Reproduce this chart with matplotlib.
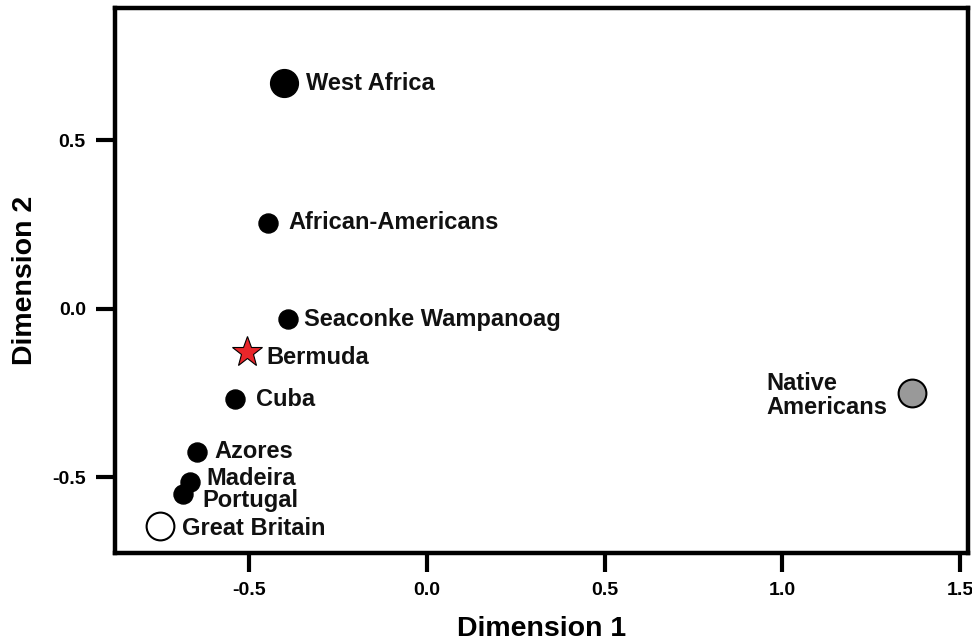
import matplotlib
matplotlib.use('Agg')
import matplotlib.pyplot as plt

plt.rcParams['font.family'] = ['Liberation Sans', 'DejaVu Sans']
plt.rcParams['font.weight'] = 'bold'

# MDS coordinates
groups = ['West Africa', 'African-Americans', 'Seaconke Wampanoag', 'Bermuda', 'Cuba',
          'Azores', 'Madeira', 'Portugal', 'Great Britain', 'Native\nAmericans']
dim1 = [-0.403, -0.447, -0.391, -0.506, -0.539, -0.645, -0.666, -0.685, -0.750, 1.365]
dim2 = [0.670, 0.256, -0.031, -0.127, -0.268, -0.424, -0.514, -0.550, -0.645, -0.249]

xticks = [-0.5, 0.0, 0.5, 1.0, 1.5]
yticks = [-0.5, 0.0, 0.5]

# marker style per group: (marker, size, face, edge width)
style = {
    'West Africa': ('o', 20, 'black', 1.0),
    'Bermuda': ('*', 23, '#e8262a', 0.8),
    'Great Britain': ('o', 20, 'white', 1.5),
    'Native\nAmericans': ('o', 20, '#999999', 1.5),
}
# label offsets in points (dx, dy)
offsets = {
    'West Africa': (16.5, 0), 'African-Americans': (15, 0), 'Seaconke Wampanoag': (12, 0),
    'Bermuda': (14, -4.5), 'Cuba': (15, 0), 'Azores': (12, 0), 'Madeira': (11.5, 2.2),
    'Portugal': (14, -4.8), 'Great Britain': (15.5, -1.5), 'Native\nAmericans': (-18, -2),
}

fig = plt.figure(figsize=(9.72, 6.44), dpi=100)
ax = fig.add_axes([0.1183, 0.1413, 0.8776, 0.8463])

for name, x, y in zip(groups, dim1, dim2):
    m, ms, fc, ew = style.get(name, ('o', 13.7, 'black', 1.0))
    ax.plot(x, y, marker=m, markersize=ms, markerfacecolor=fc,
            markeredgecolor='black', markeredgewidth=ew, linestyle='none', zorder=3)
    dx, dy = offsets[name]
    ha = 'right' if dx < 0 else 'left'
    ax.annotate(name, (x, y), xytext=(dx, dy), textcoords='offset points',
                ha=ha, va='center', multialignment='left', linespacing=1.05,
                fontsize=17, fontweight='bold', color='#111111')

ax.set_xlim(-0.877, 1.522)
ax.set_ylim(-0.725, 0.893)
ax.set_xticks(xticks)
ax.set_yticks(yticks)
ax.set_xticklabels([f'{t:.1f}' for t in xticks])
ax.set_yticklabels([f'{t:.1f}' for t in yticks])

for s in ax.spines.values():
    s.set_linewidth(3.2)
ax.tick_params(axis='both', length=14, width=3, labelsize=14, pad=7)

ax.set_xlabel('Dimension 1', fontsize=20.5, fontweight='bold', labelpad=12)
ax.set_ylabel('Dimension 2', fontsize=20.5, fontweight='bold', labelpad=10)

fig.savefig('out.png', dpi=100)
